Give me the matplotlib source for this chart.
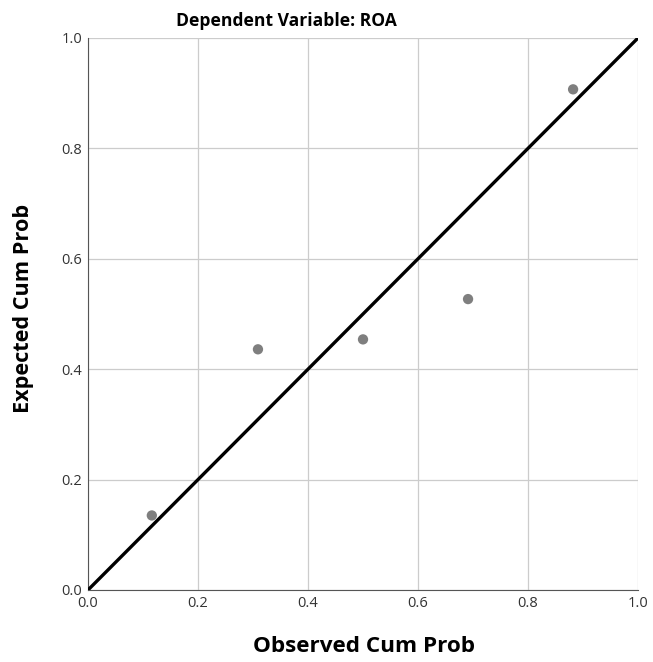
import numpy as np
import matplotlib
matplotlib.use("Agg")
import matplotlib.pyplot as plt

# observed vs expected cumulative probabilities (P-P plot of residuals)
observed = [0.116, 0.309, 0.500, 0.691, 0.882]
expected = [0.135, 0.436, 0.454, 0.527, 0.907]
ticks = [0.0, 0.2, 0.4, 0.6, 0.8, 1.0]

plt.rcParams["font.family"] = ["Open Sans", "DejaVu Sans"]

fig = plt.figure(figsize=(6.53, 6.62), dpi=100)
ax = fig.add_axes([0.1348, 0.1088, 0.8422, 0.8338])

ax.plot([0, 1], [0, 1], color="black", lw=2.4, zorder=3, solid_capstyle="butt")
ax.scatter(observed, expected, s=55, color="#7f7f7f", zorder=4, edgecolors="none")

ax.set_xlim(0, 1)
ax.set_ylim(0, 1)
ax.set_xticks(ticks)
ax.set_yticks(ticks)
ax.set_xticklabels([f"{t:.1f}" for t in ticks], fontsize=10.5, color="#333333")
ax.set_yticklabels([f"{t:.1f}" for t in ticks], fontsize=10.5, color="#333333")
ax.tick_params(length=0, pad=4)
ax.grid(True, color="#cccccc", lw=0.9)
ax.set_axisbelow(True)
for s in ["top", "right"]:
    ax.spines[s].set_visible(False)
ax.spines["left"].set_color("#555555")
ax.spines["bottom"].set_color("#555555")

# title sits left of the axes centre in the original
fig.text(286 / 653, 1 - 21 / 662, "Dependent Variable: ROA", fontsize=12.6,
         fontweight="bold", ha="center", va="center")
fig.text(364 / 653, 1 - 647 / 662, "Observed Cum Prob", fontsize=16.2,
         fontweight="bold", ha="center", va="center")
fig.text(24 / 653, 1 - 308 / 662, "Expected Cum Prob", fontsize=15.6,
         fontweight="bold", ha="center", va="center", rotation=90)

fig.savefig("out.png", dpi=100)
plt.close(fig)
